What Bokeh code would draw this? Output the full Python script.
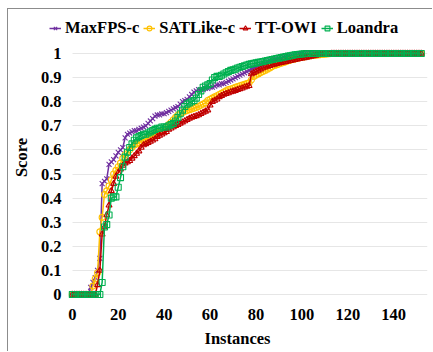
from bokeh.plotting import figure
from bokeh.models import (Range1d, FixedTicker, CustomJSTickFormatter, Legend, LegendItem)
from bokeh.embed import file_html
from bokeh.resources import INLINE

# ---------------- data ----------------
SERIES_NAMES = ["MaxFPS-c", "SATLike-c", "TT-OWI", "Loandra"]

MAXFPS = [
    0, 0, 0, 0, 0, 0, 0, 0, 0.03, 0.05,
    0.07, 0.10, 0.15, 0.46, 0.47, 0.48, 0.54, 0.55, 0.56, 0.575,
    0.59, 0.60, 0.61, 0.65, 0.665, 0.67, 0.675, 0.68, 0.68, 0.685,
    0.69, 0.695, 0.70, 0.71, 0.72, 0.73, 0.74, 0.745, 0.745, 0.75,
    0.75, 0.755, 0.76, 0.765, 0.77, 0.775, 0.78, 0.79, 0.80, 0.805,
    0.81, 0.82, 0.83, 0.84, 0.845, 0.85, 0.85, 0.85, 0.855, 0.855,
    0.86, 0.86, 0.865, 0.87, 0.87, 0.875, 0.875, 0.88, 0.885, 0.89,
    0.895, 0.90, 0.905, 0.91, 0.915, 0.92, 0.925, 0.93, 0.935, 0.94,
    0.945, 0.95, 0.955, 0.96, 0.96, 0.965, 0.97, 0.97, 0.975, 0.975,
    0.98, 0.98, 0.985, 0.985, 0.988, 0.99, 0.99, 0.993, 0.995, 0.997,
    0.998, 0.999, 1, 1, 1, 1, 1, 1, 1, 1,
    1, 1, 1, 1, 1, 1, 1, 1, 1, 1,
    1, 1, 1, 1, 1, 1, 1, 1, 1, 1,
    1, 1, 1, 1, 1, 1, 1, 1, 1, 1,
    1, 1, 1, 1, 1, 1, 1, 1, 1, 1,
    1, 1, 1,
]

SATLIKE = [
    0, 0, 0, 0, 0, 0, 0, 0, 0, 0.035,
    0.065, 0.09, 0.26, 0.32, 0.415, 0.43, 0.45, 0.475, 0.50, 0.515,
    0.53, 0.545, 0.565, 0.58, 0.59, 0.60, 0.61, 0.62, 0.625, 0.63,
    0.635, 0.64, 0.645, 0.65, 0.655, 0.66, 0.665, 0.67, 0.675, 0.68,
    0.685, 0.695, 0.705, 0.715, 0.725, 0.735, 0.745, 0.75, 0.755, 0.76,
    0.763, 0.767, 0.77, 0.773, 0.776, 0.78, 0.785, 0.79, 0.795, 0.805,
    0.81, 0.815, 0.82, 0.825, 0.83, 0.835, 0.84, 0.845, 0.85, 0.853,
    0.856, 0.86, 0.863, 0.866, 0.869, 0.872, 0.875, 0.878, 0.89, 0.905,
    0.91, 0.915, 0.92, 0.925, 0.93, 0.935, 0.94, 0.945, 0.95, 0.953,
    0.956, 0.96, 0.963, 0.966, 0.97, 0.972, 0.975, 0.977, 0.98, 0.982,
    0.984, 0.986, 0.988, 0.99, 0.991, 0.992, 0.993, 0.994, 0.995, 0.996,
    0.997, 0.998, 0.999, 1, 1, 1, 1, 1, 1, 1,
    1, 1, 1, 1, 1, 1, 1, 1, 1, 1,
    1, 1, 1, 1, 1, 1, 1, 1, 1, 1,
    1, 1, 1, 1, 1, 1, 1, 1, 1, 1,
    1, 1, 1,
]

TTOWI = [
    0, 0, 0, 0, 0, 0, 0, 0, 0, 0,
    0, 0.04, 0.10, 0.25, 0.28, 0.33, 0.37, 0.43, 0.46, 0.49,
    0.505, 0.52, 0.535, 0.545, 0.55, 0.555, 0.565, 0.575, 0.585, 0.595,
    0.61, 0.62, 0.625, 0.63, 0.635, 0.64, 0.645, 0.655, 0.66, 0.665,
    0.67, 0.675, 0.685, 0.69, 0.695, 0.70, 0.705, 0.71, 0.715, 0.72,
    0.725, 0.73, 0.735, 0.738, 0.741, 0.745, 0.75, 0.755, 0.76, 0.765,
    0.785, 0.80, 0.805, 0.81, 0.82, 0.825, 0.83, 0.833, 0.836, 0.84,
    0.843, 0.846, 0.85, 0.853, 0.856, 0.86, 0.863, 0.866, 0.915, 0.92,
    0.925, 0.93, 0.935, 0.94, 0.943, 0.946, 0.949, 0.952, 0.955, 0.958,
    0.96, 0.962, 0.964, 0.966, 0.968, 0.97, 0.972, 0.974, 0.976, 0.978,
    0.98, 0.982, 0.984, 0.986, 0.988, 0.99, 0.992, 0.994, 0.995, 0.996,
    0.997, 0.998, 0.999, 1, 1, 1, 1, 1, 1, 1,
    1, 1, 1, 1, 1, 1, 1, 1, 1, 1,
    1, 1, 1, 1, 1, 1, 1, 1, 1, 1,
    1, 1, 1, 1, 1, 1, 1, 1, 1, 1,
    1, 1, 1,
]

LOANDRA = [
    0, 0, 0, 0, 0, 0, 0, 0, 0, 0,
    0, 0, 0, 0.05, 0.28, 0.29, 0.33, 0.40, 0.405, 0.405,
    0.445, 0.485, 0.53, 0.57, 0.59, 0.61, 0.625, 0.64, 0.65, 0.655,
    0.66, 0.665, 0.665, 0.67, 0.675, 0.68, 0.685, 0.69, 0.69, 0.695,
    0.695, 0.695, 0.70, 0.705, 0.71, 0.72, 0.735, 0.75, 0.765, 0.78,
    0.79, 0.795, 0.80, 0.805, 0.815, 0.83, 0.845, 0.86, 0.865, 0.87,
    0.875, 0.89, 0.90, 0.905, 0.905, 0.91, 0.915, 0.92, 0.925, 0.93,
    0.932, 0.935, 0.94, 0.943, 0.946, 0.949, 0.952, 0.955, 0.957, 0.959,
    0.961, 0.963, 0.965, 0.967, 0.969, 0.971, 0.973, 0.975, 0.977, 0.979,
    0.981, 0.983, 0.985, 0.987, 0.989, 0.991, 0.993, 0.995, 0.996, 0.997,
    0.998, 0.999, 1, 1, 1, 1, 1, 1, 1, 1,
    1, 1, 1, 1, 1, 1, 1, 1, 1, 1,
    1, 1, 1, 1, 1, 1, 1, 1, 1, 1,
    1, 1, 1, 1, 1, 1, 1, 1, 1, 1,
    1, 1, 1, 1, 1, 1, 1, 1, 1, 1,
    1, 1, 1,
]

X_TICKS = [0, 20, 40, 60, 80, 100, 120, 140]
Y_TICKS = [0, 0.1, 0.2, 0.3, 0.4, 0.5, 0.6, 0.7, 0.8, 0.9, 1.0]

X_LABEL = "Instances"
Y_LABEL = "Score"

# ---------------- styles ----------------
COLORS = ["#7030A0", "#FFC000", "#C00000", "#00B050"]
MARKERS = ["x", "circle", "triangle", "square"]
SIZES = [7, 6, 6, 6]
FONT = "Liberation Serif"
FS = "16.5px"

ALL_SERIES = [MAXFPS, SATLIKE, TTOWI, LOANDRA]
INSTANCES = list(range(len(MAXFPS)))

p = figure(
    width=425, height=343,
    output_backend="svg", toolbar_location=None,
    x_range=Range1d(-10.8, 154.7), y_range=Range1d(-0.029, 1.166),
    min_border_left=36, min_border_right=6, min_border_top=4, min_border_bottom=51,
)
p.styles = {"margin-left": "7px", "margin-top": "8px",
            "border-left": "1px solid #8c8c8c", "border-top": "1px solid #8c8c8c"}
p.outline_line_color = None
p.background_fill_color = "white"
p.border_fill_color = "white"

items = []
for name, ys, col, mk, sz in zip(SERIES_NAMES, ALL_SERIES, COLORS, MARKERS, SIZES):
    lr = p.line(INSTANCES, ys, line_color=col, line_width=1.5)
    sr = p.scatter(INSTANCES, ys, marker=mk, size=sz, line_color=col,
                   fill_color=None, line_width=1.1)
    items.append(LegendItem(label=name, renderers=[lr, sr]))

legend = Legend(items=items, orientation="horizontal", location=(2, 263))
legend.label_text_font = FONT
legend.label_text_font_style = "bold"
legend.label_text_font_size = FS
legend.label_text_color = "black"
legend.glyph_width = 12
legend.glyph_height = 12
legend.label_standoff = 4
legend.spacing = 4
legend.padding = 2
legend.margin = 0
legend.border_line_color = None
legend.background_fill_alpha = 0
p.add_layout(legend)

# grid
p.xgrid.visible = False
p.ygrid.ticker = FixedTicker(ticks=Y_TICKS)
p.ygrid.grid_line_color = "#e6e6e6"
p.ygrid.grid_line_width = 1
p.ygrid.cross_bounds = (0, 154.7)

# axes
for ax in (p.xaxis[0], p.yaxis[0]):
    ax.axis_line_color = None
    ax.major_tick_line_color = None
    ax.minor_tick_line_color = None
    ax.major_tick_out = 0
    ax.major_tick_in = 0
    ax.minor_tick_out = 0
    ax.major_label_text_font = FONT
    ax.major_label_text_font_style = "bold"
    ax.major_label_text_font_size = FS
    ax.major_label_text_color = "black"
    ax.axis_label_text_font = FONT
    ax.axis_label_text_font_style = "bold"
    ax.axis_label_text_font_size = FS
    ax.axis_label_text_color = "black"

p.xaxis.ticker = FixedTicker(ticks=X_TICKS)
p.xaxis.axis_label = X_LABEL
p.xaxis.major_label_standoff = 7
p.xaxis.axis_label_standoff = 6

p.yaxis.ticker = FixedTicker(ticks=Y_TICKS)
p.yaxis.formatter = CustomJSTickFormatter(code="return tick.toFixed(1).replace(/\\.0$/, '');")
p.yaxis.axis_label = Y_LABEL
p.yaxis.major_label_standoff = -14
p.yaxis.axis_label_standoff = 7

open("out.html", "w").write(file_html(p, INLINE))
